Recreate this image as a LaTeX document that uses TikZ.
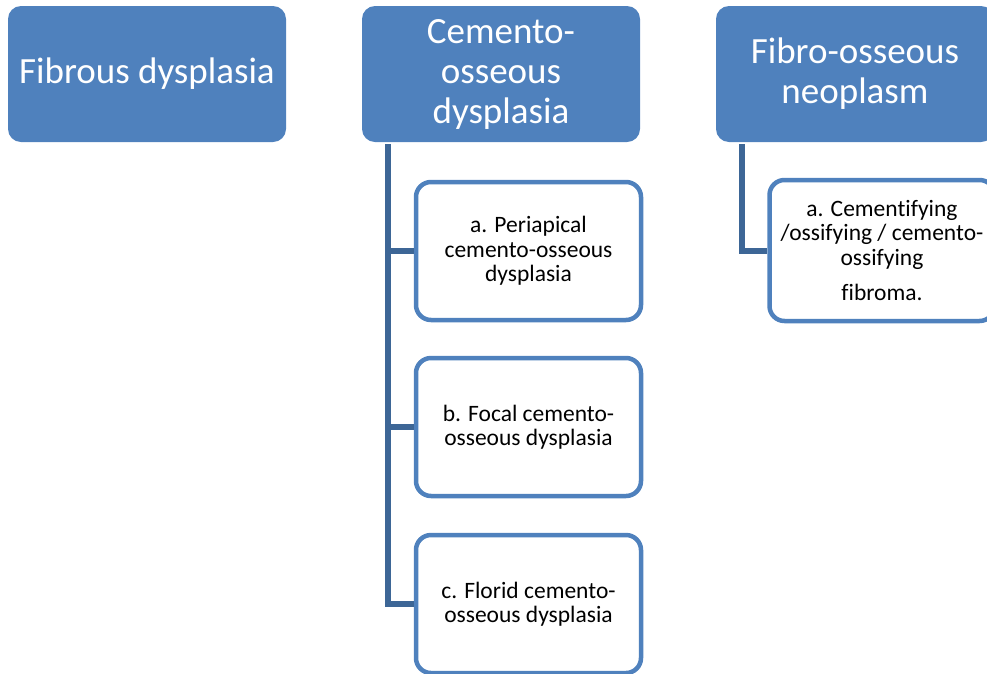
\documentclass[tikz,border=0pt]{standalone}
\usepackage{fontspec}
\setmainfont{Carlito}[Ligatures=NoCommon]
\definecolor{headblue}{HTML}{4F81BD}
\definecolor{linkblue}{HTML}{3D6696}
\begin{document}
\begin{tikzpicture}[x=1pt,y=-1pt,
  headbox/.style={fill=headblue, draw=none, rounded corners=13pt,
    minimum width=278pt, minimum height=136pt, inner sep=0pt,
    text=white, align=center, font=\fontsize{37}{40}\selectfont},
  subbox/.style={fill=white, draw=headblue, line width=4.5pt, rounded corners=15pt,
    minimum width=225pt, minimum height=138pt, inner sep=0pt,
    text=black, align=center, font=\fontsize{23.5}{24.5}\selectfont},
  link/.style={draw=linkblue, line width=6pt}]
\useasboundingbox (0,0) rectangle (987,673);
\clip (0,0) rectangle (987,673);

% top-level categories
\node[headbox] (fd)  at (147,74) {Fibrous dysplasia};
\node[headbox] (cod) at (501,74) {Cemento-\\osseous\\dysplasia};
\node[headbox] (fon) at (855,74) {Fibro-osseous\\neoplasm};

% cemento-osseous dysplasia subtypes
\node[subbox] (pa) at (528.5,251) {a. Periapical\\cemento-osseous\\dysplasia};
\node[subbox] (fo) at (528.5,427) {b. Focal cemento-\\osseous dysplasia};
\node[subbox] (fl) at (528.5,604) {c. Florid cemento-\\osseous dysplasia};

% fibro-osseous neoplasm subtype
\node[subbox, minimum height=141pt] (cf) at (882,250.5)
  {a. Cementifying\\/ossifying / cemento-\\ossifying\\[11pt]fibroma.};

% tree connectors
\draw[link] ([xshift=26pt,yshift=-2pt]cod.south west) |- (fl.west);
\draw[link] ([xshift=26pt]cod.south west |- pa.west) -- (pa.west);
\draw[link] ([xshift=26pt]cod.south west |- fo.west) -- (fo.west);
\draw[link] ([xshift=26pt,yshift=-2pt]fon.south west) |- (cf.west);
\end{tikzpicture}
\end{document}
